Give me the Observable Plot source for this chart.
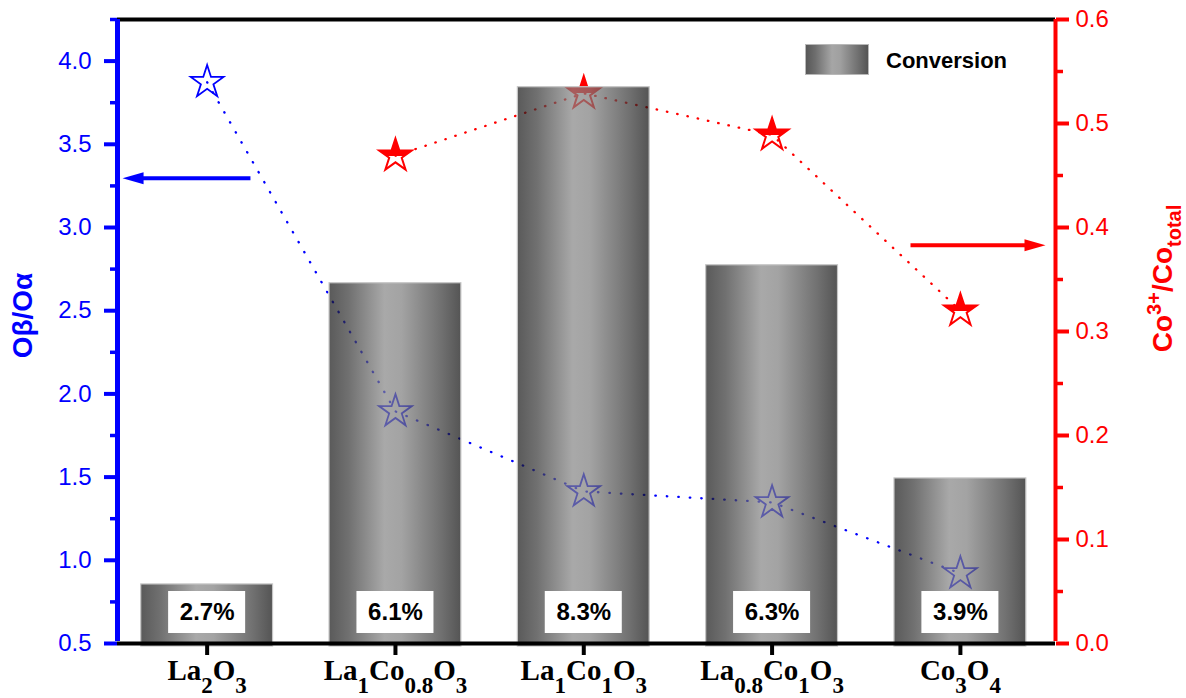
<!DOCTYPE html>
<html>
<head>
<meta charset="utf-8">
<script src="https://cdn.jsdelivr.net/npm/d3@7"></script>
<script src="https://cdn.jsdelivr.net/npm/@observablehq/plot@0.6"></script>
<style>
html,body{margin:0;padding:0;background:#fff;}
#wrap{position:relative;width:1186px;height:698px;overflow:hidden;}
#legend{position:absolute;left:805px;top:44px;height:30px;display:flex;align-items:center;z-index:2;
  font-family:"Liberation Sans",Arial,sans-serif;font-weight:bold;font-size:22px;color:#000;}
#legend .sw{width:62px;height:29px;border:1px solid #b8b8b8;margin-right:17px;
  background:linear-gradient(to right,#585858 0%,#6e6e6e 15%,#a6a6a6 42%,#a0a0a0 55%,#6e6e6e 85%,#545454 100%);}
#legend span{padding-top:4px;}
</style>
</head>
<body>
<div id="wrap">
<svg width="0" height="0" style="position:absolute">
  <defs>
    <linearGradient id="barGrad" x1="0" x2="1" y1="0" y2="0">
      <stop offset="0" stop-color="#141414"/>
      <stop offset="0.15" stop-color="#343434"/>
      <stop offset="0.42" stop-color="#848484"/>
      <stop offset="0.55" stop-color="#7c7c7c"/>
      <stop offset="0.85" stop-color="#343434"/>
      <stop offset="1" stop-color="#0c0c0c"/>
    </linearGradient>
    <linearGradient id="halfRed" x1="0" x2="0" y1="0" y2="1">
      <stop offset="0.55" stop-color="#ff0000" stop-opacity="1"/>
      <stop offset="0.55" stop-color="#ff0000" stop-opacity="0"/>
    </linearGradient>
  </defs>
</svg>
<div id="legend"><div class="sw"></div><span>Conversion</span></div>
</div>
<script>
// ---- data ----
const categories = ["La_{2}O_{3}", "La_{1}Co_{0.8}O_{3}", "La_{1}Co_{1}O_{3}", "La_{0.8}Co_{1}O_{3}", "Co_{3}O_{4}"];
const conversionHeight = [0.855, 2.665, 3.843, 2.773, 1.492];   // bar tops on left axis
const conversionLabel = ["2.7%", "6.1%", "8.3%", "6.3%", "3.9%"];
const obOa = [3.873, 1.895, 1.414, 1.348, 0.921];               // Oβ/Oα (left axis)
const co3Total = [null, 0.469, 0.529, 0.489, 0.320];            // Co3+/Cototal (right axis)
const leftTicks = [0.5, 1.0, 1.5, 2.0, 2.5, 3.0, 3.5, 4.0];
const leftMinor = [0.75, 1.25, 1.75, 2.25, 2.75, 3.25, 3.75, 4.25];
const rightTicks = [0, 0.1, 0.2, 0.3, 0.4, 0.5, 0.6];
const rightMinor = [0.05, 0.15, 0.25, 0.35, 0.45, 0.55];
const leftLabel = "Oβ/Oα";
const rightLabel = "Co^{3+}/Co_{total}";
const arrowNotes = [
  {from: 0.23, to: -0.449, y: 3.296, axis: "left", color: "#0000ff", dir: -1},
  {from: 3.735, to: 4.452, y: 0.383, axis: "right", color: "#ff0000", dir: 1}
];

// ---- helpers ----
const yDomain = [0.5, 4.25];
const rightDomain = [0, 0.6];
const toLeft = v => yDomain[0] + (v - rightDomain[0]) * (yDomain[1] - yDomain[0]) / (rightDomain[1] - rightDomain[0]);
const fromLeft = v => rightDomain[0] + (v - yDomain[0]) * (rightDomain[1] - rightDomain[0]) / (yDomain[1] - yDomain[0]);
const plain = m => m.replace(/[_^]\{([^}]*)\}/g, "$1");
const xDomain = [-0.476, 4.505];

const rows = categories.map((c, i) => ({i, c, conv: conversionHeight[i], label: conversionLabel[i], ob: obOa[i], co3: co3Total[i]}));
const redRows = rows.filter(d => d.co3 != null);

const arrowHeadLeft = {draw(ctx) { ctx.moveTo(0, 0); ctx.lineTo(21, -6); ctx.lineTo(21, 6); ctx.closePath(); }};
const arrowHeadRight = {draw(ctx) { ctx.moveTo(0, 0); ctx.lineTo(-21, -6); ctx.lineTo(-21, 6); ctx.closePath(); }};

const noteY = d => d.axis === "right" ? toLeft(d.y) : d.y;
const shaftEnd = d => d.to - d.dir * 0.064;

const chart = Plot.plot({
  width: 1186,
  height: 698,
  marginLeft: 117,
  marginRight: 131,
  marginTop: 19,
  marginBottom: 55,
  style: {fontFamily: "'Liberation Sans', Arial, sans-serif", background: "white", overflow: "visible"},
  x: {type: "linear", domain: xDomain},
  y: {domain: yDomain},
  marks: [
    // dotted connecting lines
    Plot.line(rows, {x: "i", y: "ob", curve: "linear", stroke: "#0000ff", strokeWidth: 2.3,
      strokeDasharray: "0.5,11", strokeLinecap: "round"}),
    Plot.line(redRows, {x: "i", y: d => toLeft(d.co3), curve: "linear", stroke: "#ff0000", strokeWidth: 2.3,
      strokeDasharray: "0.5,10", strokeLinecap: "round"}),
    // stars
    Plot.dot(rows, {x: "i", y: "ob", symbol: "star", r: 10.3, fill: "none", stroke: "#0000ff", strokeWidth: 1.8}),
    Plot.dot(redRows, {x: "i", y: d => toLeft(d.co3), symbol: "star", r: 10.3, fill: "url(#halfRed)", stroke: "#ff0000", strokeWidth: 2}),
    // bars (semi-transparent, on top)
    Plot.rect(rows, {x1: d => d.i - 0.35, x2: d => d.i + 0.35, y1: yDomain[0], y2: "conv",
      fill: "url(#barGrad)", fillOpacity: 0.7, stroke: "#c6c6c6", strokeWidth: 1.2, insetBottom: -3}),
    // value label boxes
    Plot.rect(rows, {x1: d => d.i - 0.2045, x2: d => d.i + 0.2045, y1: yDomain[0], y2: yDomain[0],
      insetTop: -52, insetBottom: 10, fill: "white"}),
    Plot.text(rows, {x: "i", y: yDomain[0], dy: -31, text: "label", fontSize: 24, fontWeight: "bold", fill: "black",
      fontFamily: "'Liberation Sans', Arial, sans-serif"}),
    // frame lines
    Plot.ruleY([yDomain[0]], {stroke: "black", strokeWidth: 4}),
    Plot.ruleY([yDomain[1]], {stroke: "black", strokeWidth: 4}),
    // axes
    Plot.axisX({ticks: rows.map(d => d.i), tickFormat: i => plain(categories[i]), tickSize: 12, tickPadding: 4,
      strokeWidth: 4, color: "black", fontSize: 29, label: null}),
    Plot.axisY({anchor: "left", ticks: leftTicks, tickFormat: d3.format(".1f"), tickSize: 13, tickPadding: 13,
      strokeWidth: 4, color: "#0000ff", fontSize: 24, label: null}),
    Plot.axisY({anchor: "left", ticks: leftMinor, tickFormat: () => "", tickSize: 7, strokeWidth: 3.5,
      color: "#0000ff", label: null}),
    Plot.axisY({anchor: "right", ticks: rightTicks.map(toLeft), tickFormat: d => fromLeft(d).toFixed(1), tickSize: 13,
      tickPadding: 7, strokeWidth: 4, color: "#ff0000", fontSize: 24, label: null}),
    Plot.axisY({anchor: "right", ticks: rightMinor.map(toLeft), tickFormat: () => "", tickSize: 7, strokeWidth: 3.5,
      color: "#ff0000", label: null}),
    Plot.ruleX([xDomain[0]], {stroke: "#0000ff", strokeWidth: 5, y1: yDomain[0], y2: yDomain[1], insetTop: -2}),
    Plot.ruleX([xDomain[1]], {stroke: "#ff0000", strokeWidth: 4, y1: yDomain[0], y2: yDomain[1], insetTop: -2}),
    // axis titles
    Plot.text([leftLabel], {frameAnchor: "left", text: d => d, rotate: -90, dx: -94, dy: -16, fontSize: 28,
      fontWeight: "bold", fill: "#0000ff", textAnchor: "middle"}),
    Plot.text([rightLabel], {frameAnchor: "right", text: d => plain(d), rotate: -90, dx: 108, dy: -53, fontSize: 28,
      fontWeight: "bold", fill: "#ff0000", textAnchor: "middle"}),
    // arrows
    Plot.link(arrowNotes, {x1: "from", x2: shaftEnd, y1: noteY, y2: noteY, stroke: d => d.color, strokeWidth: 4}),
    Plot.dot(arrowNotes.filter(d => d.dir < 0), {x: "to", y: noteY, symbol: arrowHeadLeft, r: 5, fill: "#0000ff"}),
    Plot.dot(arrowNotes.filter(d => d.dir > 0), {x: "to", y: noteY, symbol: arrowHeadRight, r: 5, fill: "#ff0000"})
  ]
});

// rich text (sub/superscripts) for labels
function applyRich(el, markup, small, subShift, supShift) {
  const parts = markup.split(/(_\{[^}]*\}|\^\{[^}]*\})/).filter(s => s.length);
  while (el.firstChild) el.removeChild(el.firstChild);
  let offset = 0;
  for (const p of parts) {
    const ts = document.createElementNS("http://www.w3.org/2000/svg", "tspan");
    let target = 0, txt = p, isSmall = false;
    if (p.startsWith("_{")) { target = subShift; txt = p.slice(2, -1); isSmall = true; }
    else if (p.startsWith("^{")) { target = -supShift; txt = p.slice(2, -1); isSmall = true; }
    if (target - offset !== 0) ts.setAttribute("dy", target - offset);
    offset = target;
    if (isSmall) ts.setAttribute("font-size", small);
    ts.textContent = txt;
    el.appendChild(ts);
  }
}
const svgRoot = chart.tagName.toLowerCase() === "svg" ? chart : chart.querySelector("svg");
const texts = Array.from(svgRoot.querySelectorAll("text"));
for (const m of categories) {
  const p = plain(m);
  for (const t of texts) {
    if (t.textContent === p) {
      t.setAttribute("font-family", "'Liberation Serif', 'Times New Roman', serif");
      t.setAttribute("font-weight", "bold");
      t.setAttribute("fill", "black");
      t.setAttribute("font-size", 29);
      applyRich(t, m, 23, 13, 0);
    }
  }
}
for (const t of texts) {
  if (t.textContent === plain(rightLabel)) applyRich(t, rightLabel, 20, 9, 11);
}

const wrap = document.getElementById("wrap");
wrap.insertBefore(chart, wrap.firstChild);
</script>
</body>
</html>
